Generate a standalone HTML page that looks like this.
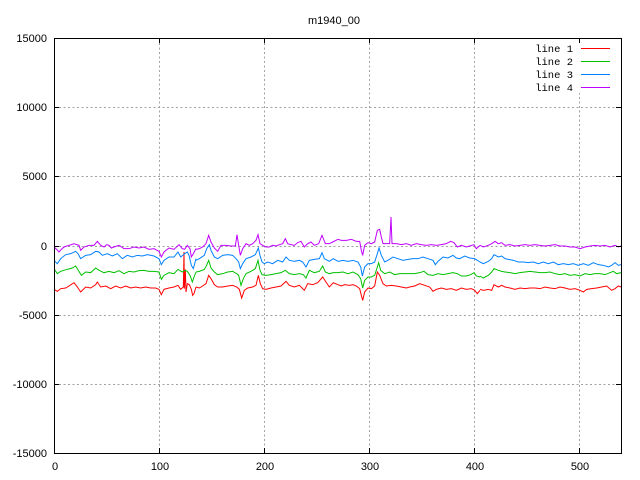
<!DOCTYPE html>
<html><head><meta charset="utf-8"><style>
html,body{margin:0;padding:0;background:#fff;}
svg{display:block;}
text{font-family:"Liberation Sans",sans-serif;font-size:11px;fill:#000;}
.m{font-family:"Liberation Mono",monospace;font-size:10.5px;}
</style></head><body>
<svg width="640" height="480" viewBox="0 0 640 480" xmlns="http://www.w3.org/2000/svg">
<rect width="640" height="480" fill="#fff"/>
<defs><clipPath id="pc"><rect x="54" y="38" width="568" height="416"/></clipPath></defs>
<g stroke="#a0a0a0" stroke-width="1" stroke-dasharray="2,2.5" shape-rendering="crispEdges" fill="none">
<line x1="159.5" y1="38.5" x2="159.5" y2="453.5"/>
<line x1="264.5" y1="38.5" x2="264.5" y2="453.5"/>
<line x1="369.5" y1="38.5" x2="369.5" y2="453.5"/>
<line x1="474.5" y1="38.5" x2="474.5" y2="453.5"/>
<line x1="579.5" y1="38.5" x2="579.5" y2="453.5"/>
<line x1="54.5" y1="107.5" x2="621.5" y2="107.5"/>
<line x1="54.5" y1="176.5" x2="621.5" y2="176.5"/>
<line x1="54.5" y1="246.5" x2="621.5" y2="246.5"/>
<line x1="54.5" y1="315.5" x2="621.5" y2="315.5"/>
<line x1="54.5" y1="384.5" x2="621.5" y2="384.5"/>
</g>
<rect x="528" y="41" width="90" height="52" fill="#fff"/>
<g clip-path="url(#pc)" fill="none" stroke-width="1" stroke-linejoin="miter">
<!-- red line 1 -->
<g stroke="#ff0000">
<g transform="translate(54,212) scale(0.333333)"><polyline vector-effect="non-scaling-stroke" points="0,232 10,238 20,230 35,228 45,222 60,212 70,225 80,240 95,225 110,228 125,218 130,210 140,225 155,222 170,230 185,222 200,228 215,222 230,228 245,225 260,228 275,225 290,228 305,228 315,232 322,248 330,232 345,228 360,225 372,220 380,232 388,225 390,120 391,230 394,172 396,240 400,215 406,218 412,232 416,250 420,245 426,225"/></g>
<g transform="translate(196,212) scale(0.333333)"><polyline vector-effect="non-scaling-stroke" points="0,225 10,228 20,222 30,215 38,190 45,200 55,218 65,225 80,225 95,222 110,220 122,225 130,232 137,258 145,235 155,228 170,225 180,220 187,190 193,215 200,230 210,232 225,228 240,225 255,222 270,208 280,220 295,225 310,220 325,235 335,215 350,218 365,212 380,195 390,210 400,225 412,212 426,218"/></g>
<g transform="translate(338,212) scale(0.333333)"><polyline vector-effect="non-scaling-stroke" points="0,218 10,222 20,218 35,220 45,218 55,222 65,230 70,250 74,265 80,240 90,228 100,230 110,222 118,180 125,190 135,215 145,222 160,220 175,222 190,225 205,228 215,225 230,222 245,215 260,220 275,225 285,238 295,232 310,228 325,232 340,230 355,235 370,228 385,232 400,230 410,235 418,245 426,235"/></g>
<g transform="translate(480,212) scale(0.333333)"><polyline vector-effect="non-scaling-stroke" points="0,232 10,235 25,232 35,235 42,218 55,225 65,220 75,225 90,228 105,232 120,228 135,230 150,228 165,228 180,230 195,225 210,228 225,230 240,225 255,228 270,232 285,230 300,235 310,240 320,232 335,230 350,228 365,225 380,222 395,235 405,230 415,222 423,225"/></g>
</g>
<!-- green line 2 -->
<g stroke="#00c000">
<g transform="translate(54,212) scale(0.333333)"><polyline vector-effect="non-scaling-stroke" points="0,170 10,185 20,178 40,172 55,168 65,162 75,178 82,190 95,180 110,182 125,168 135,175 150,182 165,178 180,182 195,176 210,185 225,178 240,180 255,176 270,175 285,178 300,178 315,180 322,202 330,190 345,182 360,185 372,172 385,180 392,175 400,178 408,190 415,210 420,195 426,180"/></g>
<g transform="translate(196,212) scale(0.333333)"><polyline vector-effect="non-scaling-stroke" points="0,180 10,178 25,172 32,160 38,145 45,168 55,180 65,188 80,185 95,180 110,178 122,185 128,190 135,220 142,200 150,185 165,178 178,170 186,145 192,175 198,188 210,190 225,188 240,185 255,182 268,175 280,185 295,188 310,185 322,188 330,198 340,175 355,182 370,178 380,162 388,180 400,185 412,182 426,182"/></g>
<g transform="translate(338,212) scale(0.333333)"><polyline vector-effect="non-scaling-stroke" points="0,182 15,180 30,185 45,180 60,188 68,200 74,228 80,205 90,195 100,195 110,190 118,165 122,152 128,175 140,185 155,180 170,188 185,185 200,185 215,185 230,185 245,182 258,178 270,188 285,190 300,185 315,188 330,185 345,182 358,185 370,192 385,192 398,188 408,182 415,192 426,195"/></g>
<g transform="translate(480,212) scale(0.333333)"><polyline vector-effect="non-scaling-stroke" points="0,192 10,198 25,190 35,180 42,170 55,175 65,178 75,180 90,182 105,185 120,182 135,180 150,178 165,180 180,182 195,182 210,180 225,185 240,188 255,185 270,190 285,188 300,192 315,185 330,188 345,185 360,185 375,188 390,182 400,178 410,185 423,182"/></g>
</g>
<!-- blue line 3 -->
<g stroke="#0080ff">
<g transform="translate(54,212) scale(0.333333)"><polyline vector-effect="non-scaling-stroke" points="0,145 10,155 20,140 35,128 50,125 65,118 72,125 80,140 95,130 110,128 125,118 135,120 145,130 160,125 175,132 190,125 205,140 220,130 235,135 250,130 265,132 280,128 300,132 315,140 322,158 330,145 345,135 360,135 372,120 380,135 392,125 400,120 405,130 412,160 418,170 426,140"/></g>
<g transform="translate(196,212) scale(0.333333)"><polyline vector-effect="non-scaling-stroke" points="0,145 10,140 25,130 32,110 40,98 45,115 55,135 65,140 80,130 95,128 110,130 120,140 128,150 133,170 140,155 150,140 165,135 178,128 187,108 192,130 198,150 205,155 215,150 230,155 245,145 260,150 270,135 280,145 295,148 310,145 320,150 330,165 340,145 355,142 370,140 378,122 385,140 400,148 412,140 426,148"/></g>
<g transform="translate(338,212) scale(0.333333)"><polyline vector-effect="non-scaling-stroke" points="0,148 15,145 30,148 45,145 60,150 68,165 73,192 80,165 90,155 100,155 110,150 118,125 123,108 130,130 140,150 150,145 165,135 180,140 195,145 210,142 225,140 240,140 255,135 270,140 285,145 292,158 300,148 315,135 330,138 345,130 355,138 365,140 380,132 395,138 410,140 426,150"/></g>
<g transform="translate(480,212) scale(0.333333)"><polyline vector-effect="non-scaling-stroke" points="0,150 10,155 25,148 35,140 42,128 55,135 65,132 75,140 85,142 100,145 115,150 130,150 145,152 160,150 175,155 190,150 205,155 220,150 235,158 250,155 265,158 280,155 295,160 310,155 325,160 340,152 355,158 370,160 385,165 395,160 405,152 415,160 423,158"/></g>
</g>
<!-- purple line 4 -->
<g stroke="#c000ff">
<g transform="translate(54,212) scale(0.333333)"><polyline vector-effect="non-scaling-stroke" points="0,105 8,112 15,120 22,112 30,105 45,100 52,98 60,95 68,98 75,100 80,115 90,105 105,100 120,100 130,88 140,100 150,105 158,98 165,100 172,108 180,105 195,100 210,110 225,110 240,105 255,108 270,105 285,112 300,110 315,118 322,135 330,120 345,108 360,112 375,98 385,110 392,112 400,100 408,110 412,135 418,125 426,110"/></g>
<g transform="translate(196,212) scale(0.333333)"><polyline vector-effect="non-scaling-stroke" points="0,112 10,110 20,105 30,95 38,70 45,90 55,108 65,118 75,100 90,100 105,102 118,102 123,68 128,100 133,130 140,110 150,95 160,100 170,95 180,85 186,68 192,95 200,100 210,105 220,105 230,100 240,102 250,98 260,95 268,80 275,95 285,98 295,100 305,92 315,88 325,105 335,95 345,90 355,100 368,95 378,70 388,95 400,95 410,90 426,82"/></g>
<g transform="translate(338,212) scale(0.333333)"><polyline vector-effect="non-scaling-stroke" points="0,82 10,85 25,85 40,82 55,88 65,88 70,115 74,130 80,100 90,92 100,95 110,90 118,55 125,52 130,75 135,95 145,95 155,95 159,15 162,95 175,95 190,98 205,95 220,100 235,95 250,98 265,100 280,98 295,100 310,98 325,95 338,88 348,92 358,105 370,100 385,105 395,102 408,98 415,110 426,100"/></g>
<g transform="translate(480,212) scale(0.333333)"><polyline vector-effect="non-scaling-stroke" points="0,100 10,105 25,100 35,95 45,88 55,95 65,92 75,100 90,98 105,102 120,100 135,98 150,100 165,98 180,100 195,102 210,100 225,98 240,102 255,102 270,105 285,105 300,110 315,105 330,102 345,100 360,102 375,100 390,105 405,100 415,105 423,102"/></g>
</g>
</g>
<!-- border and ticks -->
<g stroke="#000" stroke-width="1" fill="none" shape-rendering="crispEdges">
<rect x="54.5" y="38.5" width="567" height="415"/>
<path d="M54 38.5h5M54 107.5h5M54 176.5h5M54 246.5h5M54 315.5h5M54 384.5h5M54 453.5h5
M621 38.5h-5M621 107.5h-5M621 176.5h-5M621 246.5h-5M621 315.5h-5M621 384.5h-5M621 453.5h-5
M54.5 453v-5M159.5 453v-5M264.5 453v-5M369.5 453v-5M474.5 453v-5M579.5 453v-5
M54.5 38v5M159.5 38v5M264.5 38v5M369.5 38v5M474.5 38v5M579.5 38v5"/>
</g>
<!-- y labels -->
<g text-anchor="end">
<text x="47" y="42">15000</text>
<text x="47" y="111">10000</text>
<text x="47" y="180">5000</text>
<text x="47" y="250">0</text>
<text x="47" y="319">-5000</text>
<text x="47" y="388">-10000</text>
<text x="47" y="457">-15000</text>
</g>
<!-- x labels -->
<g text-anchor="middle">
<text x="55" y="470">0</text>
<text x="160" y="470">100</text>
<text x="265" y="470">200</text>
<text x="370" y="470">300</text>
<text x="475" y="470">400</text>
<text x="580" y="470">500</text>
</g>
<!-- title -->
<text x="334" y="24" text-anchor="middle">m1940_00</text>
<!-- legend -->
<g text-anchor="end" class="m">
<text class="m" x="573" y="52">line 1</text>
<text class="m" x="573" y="65">line 2</text>
<text class="m" x="573" y="78">line 3</text>
<text class="m" x="573" y="91">line 4</text>
</g>
<g stroke-width="1" shape-rendering="crispEdges">
<line x1="581" y1="48.5" x2="610" y2="48.5" stroke="#ff0000"/>
<line x1="581" y1="61.5" x2="610" y2="61.5" stroke="#00c000"/>
<line x1="581" y1="74.5" x2="610" y2="74.5" stroke="#0080ff"/>
<line x1="581" y1="87.5" x2="610" y2="87.5" stroke="#c000ff"/>
</g>
</svg>
</body></html>
